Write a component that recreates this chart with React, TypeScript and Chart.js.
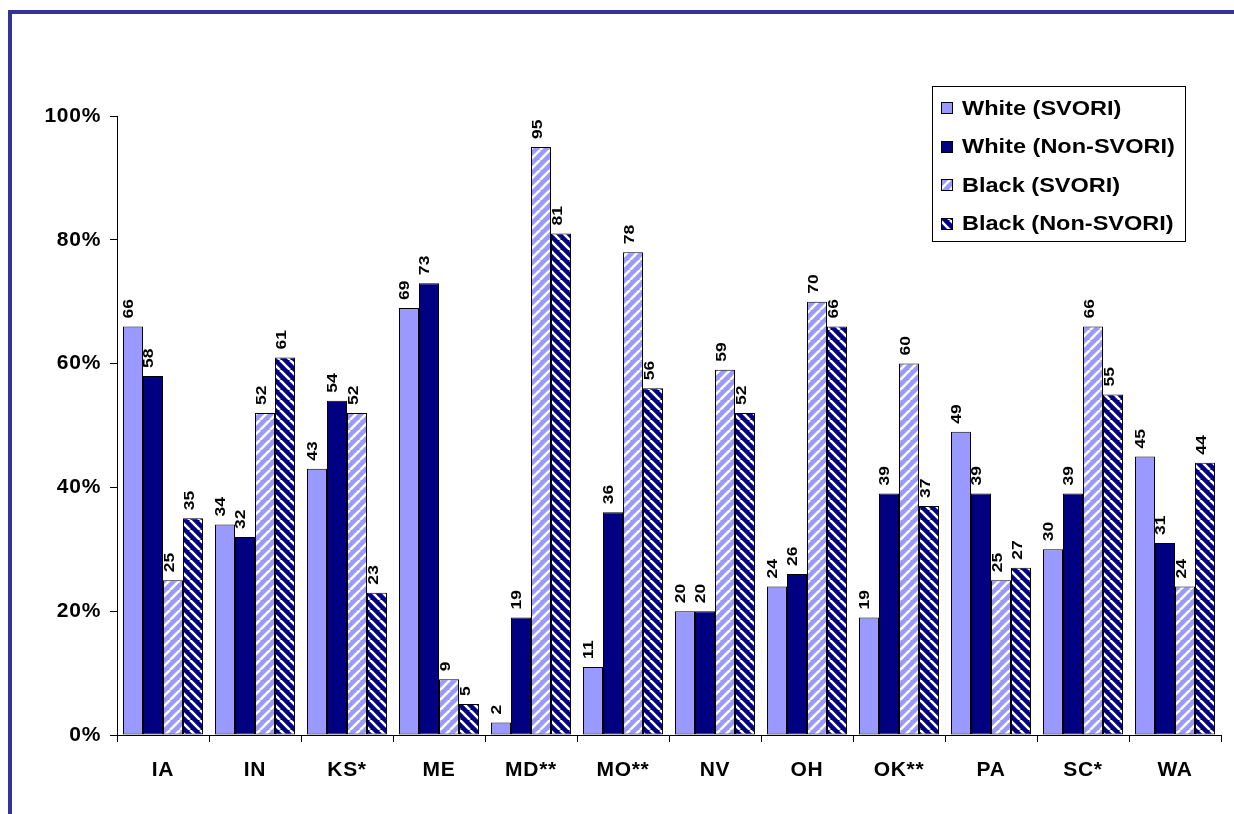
import React, { useEffect, useRef } from "react";
import { Chart, registerables } from "chart.js";

Chart.register(...registerables);

const categories = ["IA", "IN", "KS*", "ME", "MD**", "MO**", "NV", "OH", "OK**", "PA", "SC*", "WA"];
const whiteSvori = [66, 34, 43, 69, 2, 11, 20, 24, 19, 49, 30, 45];
const whiteNonSvori = [58, 32, 54, 73, 19, 36, 20, 26, 39, 39, 39, 31];
const blackSvori = [25, 52, 52, 9, 95, 78, 59, 70, 60, 25, 66, 24];
const blackNonSvori = [35, 61, 23, 5, 81, 56, 52, 66, 37, 27, 55, 44];
const seriesNames = ["White (SVORI)", "White (Non-SVORI)", "Black (SVORI)", "Black (Non-SVORI)"];
const yTicks = [0, 20, 40, 60, 80, 100];

const LIGHT = "#9999FF";
const DARK = "#000080";
const FONT = "Arial, 'Liberation Sans', sans-serif";

function stripes(color: string, dir: "/" | "\\"): CanvasPattern | string {
  const s = 10;
  const c = document.createElement("canvas");
  c.width = s;
  c.height = s;
  const g = c.getContext("2d");
  if (!g) return color;
  g.fillStyle = color;
  g.fillRect(0, 0, s, s);
  g.strokeStyle = "#ffffff";
  g.lineWidth = 2.6;
  for (const o of [-s, 0, s]) {
    g.beginPath();
    if (dir === "/") {
      g.moveTo(o, s);
      g.lineTo(o + s, 0);
    } else {
      g.moveTo(o, 0);
      g.lineTo(o + s, s);
    }
    g.stroke();
  }
  const p = g.createPattern(c, "repeat");
  return p || color;
}

export default function App() {
  const ref = useRef<HTMLCanvasElement | null>(null);
  useEffect(() => {
    if (!ref.current) return;
    const patLight = stripes(LIGHT, "/");
    const patDark = stripes(DARK, "\\");
    const fills: any[] = [LIGHT, DARK, patLight, patDark];
    const values = [whiteSvori, whiteNonSvori, blackSvori, blackNonSvori];

    const framePlugin = {
      id: "frame",
      beforeDraw(chart: any) {
        const ctx = chart.ctx;
        ctx.save();
        ctx.fillStyle = "#ffffff";
        ctx.fillRect(0, 0, chart.width, chart.height);
        ctx.fillStyle = "#333399";
        ctx.fillRect(8, 10, chart.width, 4);
        ctx.fillRect(8, 10, 4, chart.height);
        ctx.restore();
        (ctx as any).letterSpacing = "0.7px";
      },
    };

    const labelPlugin = {
      id: "vlabels",
      afterDatasetsDraw(chart: any) {
        const ctx = chart.ctx;
        ctx.save();
        ctx.fillStyle = "#000";
        ctx.font = `bold 15px ${FONT}`;
        (ctx as any).letterSpacing = "0px";
        ctx.textAlign = "left";
        ctx.textBaseline = "alphabetic";
        chart.data.datasets.forEach((ds: any, i: number) => {
          const meta = chart.getDatasetMeta(i);
          meta.data.forEach((el: any, j: number) => {
            ctx.save();
            ctx.translate(el.x + 0.5, el.y - 8);
            ctx.rotate(-Math.PI / 2);
            ctx.scale(1.17, 1);
            ctx.fillText(String(ds.data[j]), 0, 0);
            ctx.restore();
          });
        });
        ctx.restore();
      },
    };

    const legendPlugin = {
      id: "boxlegend",
      afterDraw(chart: any) {
        const ctx = chart.ctx;
        ctx.save();
        const x0 = 932.5, y0 = 86.5, w = 253, h = 155;
        ctx.fillStyle = "#fff";
        ctx.fillRect(x0, y0, w, h);
        ctx.strokeStyle = "#000";
        ctx.lineWidth = 1;
        ctx.strokeRect(x0, y0, w, h);
        ctx.font = `bold 21px ${FONT}`;
        (ctx as any).letterSpacing = "0px";
        ctx.textBaseline = "middle";
        ctx.textAlign = "left";
        seriesNames.forEach((name, i) => {
          const cy = 108 + i * 38.5;
          ctx.fillStyle = fills[i];
          ctx.fillRect(941, Math.round(cy - 6), 12, 12);
          ctx.strokeStyle = "#000";
          ctx.strokeRect(941.5, Math.round(cy - 6) + 0.5, 11, 11);
          ctx.fillStyle = "#000";
          ctx.save();
          ctx.translate(962, cy + 1);
          ctx.scale(1.12, 1);
          ctx.fillText(name, 0, 0);
          ctx.restore();
        });
        ctx.restore();
      },
    };

    const chart = new Chart(ref.current, {
      type: "bar",
      data: {
        labels: categories,
        datasets: values.map((v, i) => ({
          label: seriesNames[i],
          data: v,
          backgroundColor: fills[i],
          borderColor: "#000",
          borderWidth: 1,
          borderSkipped: false,
          categoryPercentage: 0.87,
          barPercentage: 1.0,
        })),
      },
      options: {
        animation: false,
        responsive: false,
        devicePixelRatio: 1,
        layout: { padding: { top: 116, right: 13, left: 0, bottom: 0 } },
        plugins: {
          legend: { display: false },
          tooltip: { enabled: false },
        },
        scales: {
          x: {
            grid: {
              display: true,
              drawOnChartArea: false,
              drawTicks: true,
              tickLength: 7,
              color: "#000",
              offset: true,
            },
            border: { display: true, color: "#000", width: 1 },
            ticks: {
              color: "#000",
              font: { family: FONT, size: 21, weight: "bold" },
              padding: 16,
              maxRotation: 0,
              autoSkip: false,
            },
            afterFit(scale: any) {
              scale.height = 814 - 735;
            },
          },
          y: {
            min: 0,
            max: 100,
            afterBuildTicks(scale: any) {
              scale.ticks = yTicks.map((v) => ({ value: v }));
            },
            grid: {
              display: true,
              drawOnChartArea: false,
              drawTicks: true,
              tickLength: 7,
              color: "#000",
            },
            border: { display: true, color: "#000", width: 1 },
            ticks: {
              color: "#000",
              font: { family: FONT, size: 21, weight: "bold" },
              padding: 9,
              callback: (v: any) => `${v}%`,
            },
            afterFit(scale: any) {
              scale.width = 117;
            },
          },
        },
      },
      plugins: [framePlugin, labelPlugin, legendPlugin],
    });
    return () => chart.destroy();
  }, []);

  return (
    <div style={{ position: "fixed", left: 0, top: 0, width: 1234, height: 814, background: "#fff" }}>
      <canvas ref={ref} width={1234} height={814} style={{ display: "block", width: 1234, height: 814 }} />
    </div>
  );
}
